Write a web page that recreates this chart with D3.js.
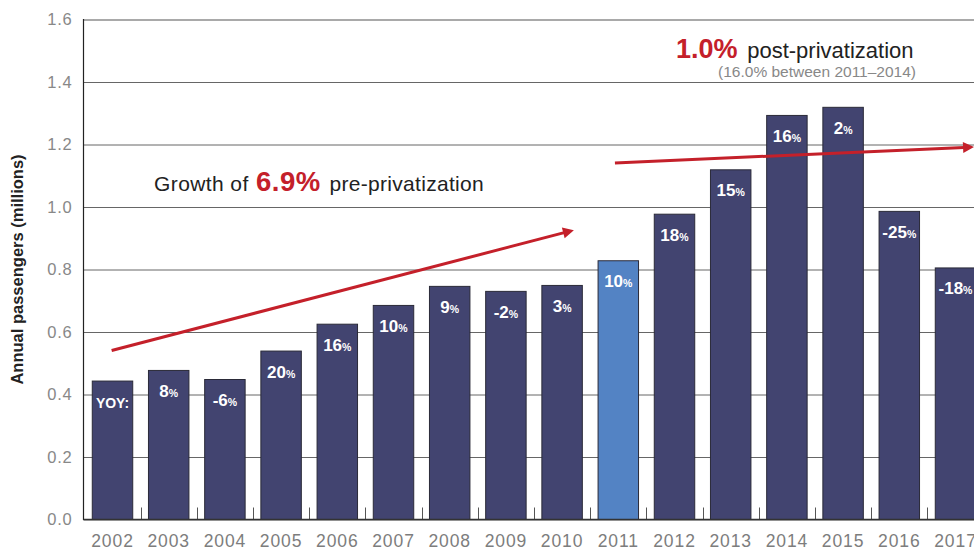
<!DOCTYPE html>
<html>
<head>
<meta charset="utf-8">
<script src="https://cdn.jsdelivr.net/npm/d3@7"></script>
<style>
  html, body { margin: 0; padding: 0; background: #fff; }
  svg { display: block; font-family: "Liberation Sans", Arial, sans-serif; }
</style>
</head>
<body>
<svg id="chart" width="974" height="552"></svg>
<script>
// Annual passengers, millions, by year
const years = ["2002","2003","2004","2005","2006","2007","2008","2009",
               "2010","2011","2012","2013","2014","2015","2016","2017"];
const passengers = [0.443, 0.477, 0.448, 0.539, 0.625, 0.685, 0.746, 0.730,
                    0.749, 0.828, 0.977, 1.119, 1.293, 1.319, 0.986, 0.805];
// Year-over-year change shown inside each bar
const yoyLabels = ["YOY:", "8", "-6", "20", "16", "10", "9", "-2",
                   "3", "10", "18", "15", "16", "2", "-25", "-18"];
const yTicks = [0, 0.2, 0.4, 0.6, 0.8, 1.0, 1.2, 1.4, 1.6];
const privatizationYear = "2011";
// Trend arrows in (year index, passengers) space
const trendArrows = [
  { from: [-0.015, 0.541], to: [8.21, 0.926] },
  { from: [8.94, 1.141],  to: [15.33, 1.192] }
];

(function draw() {
  const W = 974;
  const plotLeft = 83.5, plotTop = 19.5, plotBottom = 519.5;
  const step = 56.2;

  const svg = d3.select("#chart");

  const x = d3.scaleBand()
    .domain(years)
    .range([84.4, 84.4 + years.length * step])
    .paddingInner(0.28)
    .paddingOuter(0.14);

  const y = d3.scaleLinear().domain([0, 1.6]).range([plotBottom, plotTop]);

  // year index -> bar centre
  const xi = d3.scaleLinear()
    .domain([0, years.length - 1])
    .range([x(years[0]) + x.bandwidth() / 2, x(years[years.length - 1]) + x.bandwidth() / 2]);

  // Gridlines + y tick labels
  const yAxis = d3.axisLeft(y)
    .tickValues(yTicks)
    .tickFormat(d3.format(".1f"))
    .tickSizeInner(-(W - plotLeft))
    .tickSizeOuter(0)
    .tickPadding(11);

  const gy = svg.append("g").attr("transform", `translate(${plotLeft},0)`).call(yAxis);
  gy.select(".domain").remove();
  gy.selectAll(".tick line")
    .attr("stroke", d => d === 1.6 ? "#8c8c8c" : "#666")
    .attr("stroke-width", d => d === 1.6 ? 1.6 : 1);
  gy.selectAll(".tick text")
    .attr("fill", "#888")
    .attr("font-size", 16.5)
    .attr("letter-spacing", 0.8)
    .attr("font-family", "Liberation Sans, Arial, sans-serif");

  // Bars
  svg.append("g").selectAll("rect")
    .data(years)
    .join("rect")
    .attr("x", d => x(d))
    .attr("y", (d, i) => y(passengers[i]))
    .attr("width", x.bandwidth())
    .attr("height", (d, i) => y(0) - y(passengers[i]))
    .attr("fill", d => d === privatizationYear ? "#5383c4" : "#424470")
    .attr("stroke", "#2a2a38")
    .attr("stroke-width", 1);

  // Small ticks between bars
  svg.append("g").selectAll("line")
    .data(years.slice(1))
    .join("line")
    .attr("x1", d => Math.round(x(d) - step * 0.14) + 0.5)
    .attr("x2", d => Math.round(x(d) - step * 0.14) + 0.5)
    .attr("y1", plotBottom)
    .attr("y2", plotBottom - 12)
    .attr("stroke", "#555")
    .attr("stroke-width", 1);

  // Axis lines
  svg.append("line")
    .attr("x1", plotLeft).attr("x2", plotLeft)
    .attr("y1", plotTop - 0.5).attr("y2", plotBottom + 0.5)
    .attr("stroke", "#222").attr("stroke-width", 1.2);
  svg.append("line")
    .attr("x1", plotLeft).attr("x2", W)
    .attr("y1", plotBottom).attr("y2", plotBottom)
    .attr("stroke", "#333").attr("stroke-width", 1.5);

  // X axis labels
  const xAxis = d3.axisBottom(x).tickSize(0).tickPadding(15.5);
  const gx = svg.append("g").attr("transform", `translate(0,${plotBottom})`).call(xAxis);
  gx.select(".domain").remove();
  gx.selectAll(".tick text")
    .attr("fill", "#7d7d7d")
    .attr("font-size", 17.5)
    .attr("letter-spacing", 0.9)
    .attr("font-family", "Liberation Sans, Arial, sans-serif");

  // YOY labels inside bars
  const lbl = svg.append("g").selectAll("text")
    .data(years)
    .join("text")
    .attr("x", d => x(d) + x.bandwidth() / 2)
    .attr("y", (d, i) => y(passengers[i]) + 26.5)
    .attr("text-anchor", "middle")
    .attr("fill", "#fff")
    .attr("font-weight", "bold");
  lbl.each(function(d, i) {
    const t = d3.select(this);
    const s = yoyLabels[i];
    if (s === "YOY:") {
      t.append("tspan").attr("font-size", 14).text(s);
    } else {
      t.append("tspan").attr("font-size", 17).text(s);
      t.append("tspan").attr("font-size", 10.5).text("%");
    }
  });

  // Trend arrows
  const red = "#c4202a";
  const headLen = 11, headHalf = 5.5;
  trendArrows.forEach(a => {
    const x1 = xi(a.from[0]), y1 = y(a.from[1]);
    const x2 = xi(a.to[0]), y2 = y(a.to[1]);
    const ang = Math.atan2(y2 - y1, x2 - x1);
    const bx = x2 - headLen * Math.cos(ang), by = y2 - headLen * Math.sin(ang);
    svg.append("line")
      .attr("x1", x1).attr("y1", y1).attr("x2", bx + Math.cos(ang)).attr("y2", by + Math.sin(ang))
      .attr("stroke", red).attr("stroke-width", 3);
    const px = -Math.sin(ang), py = Math.cos(ang);
    svg.append("path")
      .attr("d", `M${x2},${y2}L${bx + px * headHalf},${by + py * headHalf}L${bx - px * headHalf},${by - py * headHalf}Z`)
      .attr("fill", red);
  });

  // Pre-privatization annotation
  const ann = svg.append("g");
  ann.append("text").attr("x", 154).attr("y", 190.5)
    .attr("font-size", 21).attr("letter-spacing", 0.4).attr("fill", "#222")
    .text("Growth of");
  ann.append("text").attr("x", 256).attr("y", 190.5)
    .attr("font-size", 27.5).attr("font-weight", "bold").attr("letter-spacing", 0.5).attr("fill", red)
    .text("6.9%");
  ann.append("text").attr("x", 329.5).attr("y", 190.5)
    .attr("font-size", 21).attr("letter-spacing", 0.3).attr("fill", "#222")
    .text("pre-privatization");

  // Post-privatization annotation
  ann.append("text").attr("x", 676).attr("y", 57.7)
    .attr("font-size", 27).attr("font-weight", "bold").attr("fill", red)
    .text("1.0%");
  ann.append("text").attr("x", 913.5).attr("y", 57.7).attr("text-anchor", "end")
    .attr("font-size", 22).attr("fill", "#222")
    .text("post-privatization");
  ann.append("text").attr("x", 916).attr("y", 77.3).attr("text-anchor", "end")
    .attr("font-size", 15.5).attr("fill", "#888")
    .text("(16.0% between 2011\u20132014)");

  // Y axis title
  svg.append("text")
    .attr("transform", `translate(23,${(plotTop + plotBottom) / 2}) rotate(-90)`)
    .attr("text-anchor", "middle")
    .attr("font-size", 16.5)
    .attr("font-weight", "bold")
    .attr("fill", "#222")
    .text("Annual passengers (millions)");
})();
</script>
</body>
</html>
